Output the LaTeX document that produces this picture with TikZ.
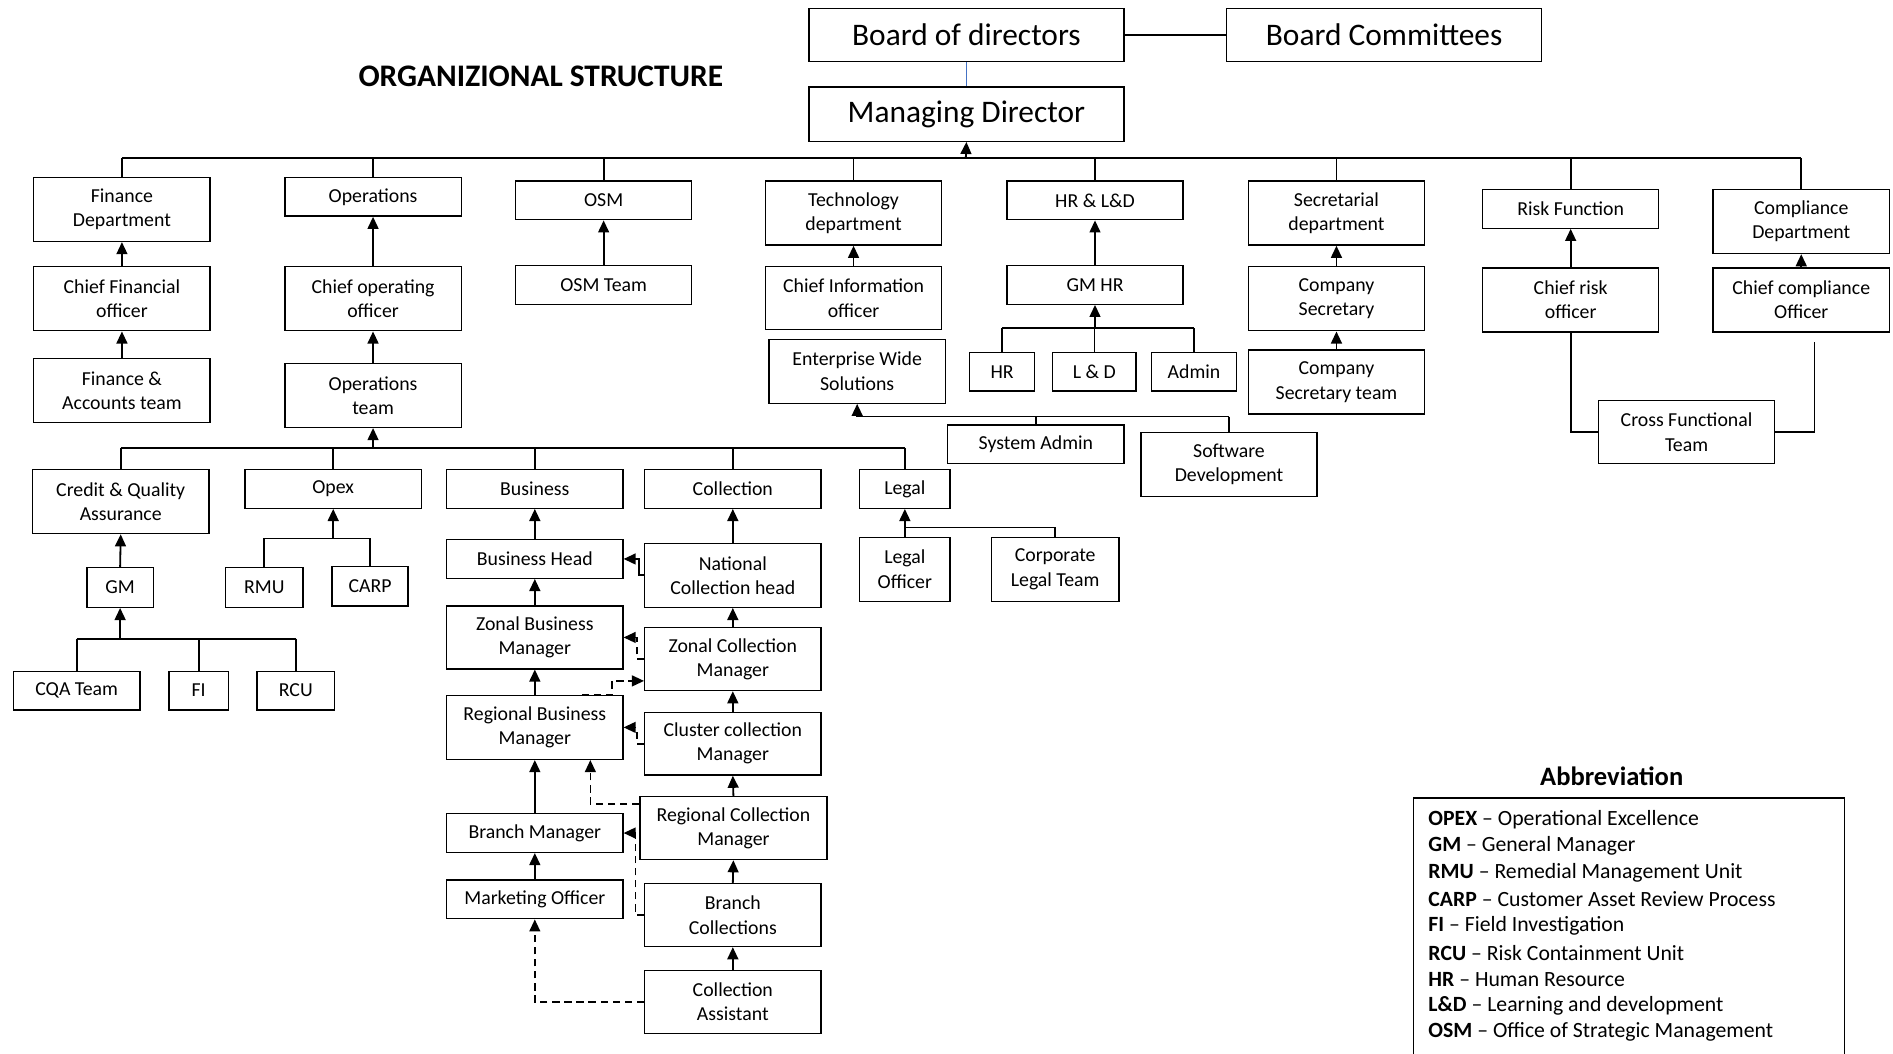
\documentclass[tikz,border=0pt]{standalone}
\usepackage{fontspec}
\setmainfont{Carlito}
\usetikzlibrary{arrows.meta}
\begin{document}
\begin{tikzpicture}[x=1pt,y=-1pt,
 box/.style={draw, line width=1.1pt, align=center, inner sep=0pt, font=\fontsize{16.4}{20}\selectfont},
 bigbox/.style={draw, line width=1.1pt, align=center, inner sep=0pt, font=\fontsize{26}{30}\selectfont},
 sz/.style 2 args={minimum width=#1pt, minimum height=#2pt},
 conn/.style={line width=1.5pt},
 bus/.style={line width=2.2pt},
 arr/.style={line width=1.5pt,-{Triangle[width=9pt,length=10pt]}},
 dsh/.style={dash pattern=on 6pt off 4pt, line width=1.4pt},
 abbr/.style={anchor=west, inner sep=0pt, font=\fontsize{18}{22}\selectfont},
]
\useasboundingbox (0,0) rectangle (1568,873);
\fill[white] (0,0) rectangle (1568,873);

% title
\node[font=\fontsize{26}{30}\selectfont\bfseries] (title) at (448,63) {ORGANIZIONAL STRUCTURE};

% top
\node[bigbox, sz={261}{44}] (bod) at (800.5,29) {Board of directors};
\node[bigbox, sz={261}{44}] (bc) at (1146.5,29) {Board Committees};
\node[bigbox, sz={261}{45}] (md) at (800.5,94.5) {Managing Director};
\draw[conn] (bod.east) -- (bc.west);
\draw[line width=0.7pt, color={rgb,255:red,68;green,114;blue,196}] (bod.south) -- (md.south |- md.north);

% level 1
\node[box, sz={146}{53}] (fd) at (101,173.5) {Finance\\Department};
\node[box, sz={146}{32}] (ops) at (309,163) {Operations};
\node[box, sz={146}{32}] (osm) at (500,166) {OSM};
\node[box, sz={146}{53}] (tech) at (707,176.5) {Technology\\department};
\node[box, sz={146}{32}] (hrld) at (907,166) {HR \& L\&D};
\node[box, sz={146}{53}] (sec) at (1107,176.5) {Secretarial\\department};
\node[box, sz={146}{32}] (risk) at (1301,173) {Risk Function};
\node[box, sz={146}{53}] (comp) at (1492,183.5) {Compliance\\Department};

\coordinate (topbus) at (800,131);
\draw[bus] (fd.north |- topbus) -- (comp.north |- topbus);
\foreach \n in {fd,ops,osm,tech,hrld,sec,risk,comp}
  \draw[conn] (\n.north |- topbus) -- (\n.north);
\draw[arr] (topbus) -- (md.south);

% level 2
\node[box, sz={146}{53}] (cfo) at (101,247.5) {Chief Financial\\officer};
\node[box, sz={146}{53}] (coo) at (309,247.5) {Chief operating\\officer};
\node[box, sz={146}{32}] (osmt) at (500,236) {OSM Team};
\node[box, sz={146}{52}] (cio) at (707,247) {Chief Information\\officer};
\node[box, sz={146}{32}] (gmhr) at (907,236) {GM HR};
\node[box, sz={146}{53}] (cs) at (1107,247.5) {Company\\Secretary};
\node[box, sz={146}{53}] (cro) at (1301,248.5) {Chief risk\\officer};
\node[box, sz={146}{53}] (cco) at (1492,248.5) {Chief compliance\\Officer};

\draw[arr] (cfo.north) -- (fd.south);
\draw[arr] (coo.north) -- (ops.south);
\draw[arr] (osmt.north) -- (osm.south);
\draw[arr] (cio.north) -- (tech.south);
\draw[arr] (gmhr.north) -- (hrld.south);
\draw[arr] (cs.north) -- (sec.south);
\draw[arr] (cro.north) -- (risk.south);
\draw[arr] (cco.north) -- (comp.south);

% level 3
\node[box, sz={146}{53}] (fat) at (101,323.5) {Finance \&\\Accounts team};
\node[box, sz={146}{53}] (opt) at (309,327.5) {Operations\\team};
\node[box, sz={146}{53}] (ews) at (710,307.5) {Enterprise Wide\\Solutions};
\node[box, sz={54}{32}] (hr) at (830,308) {HR};
\node[box, sz={69}{32}] (ld) at (906.5,308) {L \& D};
\node[box, sz={70}{32}] (adm) at (989,308) {Admin};
\node[box, sz={146}{53}] (cst) at (1107,316.5) {Company\\Secretary team};
\node[box, sz={146}{52}] (cft) at (1397,358) {Cross Functional\\Team};
\node[box, sz={146}{32}] (sysad) at (858,368) {System Admin};
\node[box, sz={146}{53}] (swd) at (1018,384.5) {Software\\Development};

\draw[arr] (fat.north) -- (cfo.south);
\draw[arr] (opt.north) -- (coo.south);
\draw[arr] (cst.north) -- (cs.south);

\coordinate (hrbus) at (907,272);
\draw[conn] (hr.north |- hrbus) -- (adm.north |- hrbus);
\foreach \n in {hr,ld,adm} \draw[conn] (\n.north |- hrbus) -- (\n.north);
\draw[arr] (hrbus) -- (gmhr.south);

\coordinate (ewsbus) at (710,345);
\draw[conn] (ewsbus) -- (swd.north |- ewsbus);
\draw[conn] (sysad.north |- ewsbus) -- (sysad.north);
\draw[conn] (swd.north |- ewsbus) -- (swd.north);
\draw[arr] (ewsbus) -- (ews.south);

\coordinate (cftend) at (1503,283);
\draw[conn] (cro.south) |- (cft.west);
\draw[conn] (cft.east) -| (cftend);

% operations level
\node[box, sz={146}{53}] (cqa) at (100,415.5) {Credit \& Quality\\Assurance};
\node[box, sz={146}{32}] (opex) at (276,405) {Opex};
\node[box, sz={146}{32}] (bus) at (443,405) {Business};
\node[box, sz={146}{32}] (coll) at (607,405) {Collection};
\node[box, sz={75}{32}] (legal) at (749.5,405) {Legal};

\coordinate (opsbus) at (309,371);
\draw[bus] (cqa.north |- opsbus) -- (legal.north |- opsbus);
\foreach \n in {cqa,opex,bus,coll,legal} \draw[conn] (\n.north |- opsbus) -- (\n.north);
\draw[arr] (opsbus) -- (opt.south);

% CQA
\node[box, sz={55}{33}] (gm) at (99.5,486.5) {GM};
\node[box, sz={105}{32}] (cqat) at (63.5,572) {CQA Team};
\node[box, sz={49}{32}] (fi) at (164.5,572) {FI};
\node[box, sz={64}{32}] (rcu) at (245,572) {RCU};
\draw[arr] (gm.north) -- (cqa.south);
\coordinate (gmbus) at (99.5,529);
\draw[conn] (cqat.north |- gmbus) -- (rcu.north |- gmbus);
\foreach \n in {cqat,fi,rcu} \draw[conn] (\n.north |- gmbus) -- (\n.north);
\draw[arr] (gmbus) -- (gm.south);

% Opex
\node[box, sz={64}{33}] (rmu) at (219,486.5) {RMU};
\node[box, sz={63}{33}] (carp) at (306.5,485.5) {CARP};
\coordinate (opexbus) at (276,446);
\draw[conn] (rmu.north |- opexbus) -- (carp.north |- opexbus);
\foreach \n in {rmu,carp} \draw[conn] (\n.north |- opexbus) -- (\n.north);
\draw[arr] (opexbus) -- (opex.south);

% Legal
\node[box, sz={75}{53}] (lo) at (749.5,471.5) {Legal\\Officer};
\node[box, sz={106}{53}] (clt) at (874,471.5) {Corporate\\Legal Team};
\coordinate (legalbus) at (749.5,437);
\draw[conn] (legalbus) -| (clt.north);
\draw[arr] (lo.north) -- (legal.south);

% Business column
\node[box, sz={146}{32}] (bh) at (443,463) {Business Head};
\node[box, sz={146}{52}] (zbm) at (443,528) {Zonal Business\\Manager};
\node[box, sz={146}{53}] (rbm) at (443,602.5) {Regional Business\\Manager};
\node[box, sz={146}{32}] (bm) at (443,690) {Branch Manager};
\node[box, sz={146}{32}] (mo) at (443,745) {Marketing Officer};
\draw[arr] (bh.north) -- (bus.south);
\draw[arr] (zbm.north) -- (bh.south);
\draw[arr] (rbm.north) -- (zbm.south);
\draw[arr] (bm.north) -- (rbm.south);
\draw[arr] (mo.north) -- (bm.south);

% Collection column
\node[box, sz={146}{53}] (nch) at (607,476.5) {National\\Collection head};
\node[box, sz={146}{52}] (zcm) at (607,546) {Zonal Collection\\Manager};
\node[box, sz={146}{52}] (ccm) at (607,616) {Cluster collection\\Manager};
\node[box, sz={155}{52}] (rcm) at (607.5,686) {Regional Collection\\Manager};
\node[box, sz={146}{52}] (bcol) at (607,758) {Branch\\Collections};
\node[box, sz={146}{52}] (ca) at (607,830) {Collection\\Assistant};
\draw[arr] (nch.north) -- (coll.south);
\draw[arr] (zcm.north) -- (nch.south);
\draw[arr] (ccm.north) -- (zcm.south);
\draw[arr] (rcm.north) -- (ccm.south);
\draw[arr] (bcol.north) -- (rcm.south);
\draw[arr] (ca.north) -- (bcol.south);

% cross links
\draw[arr] (nch.west) -- ++(-4,0) |- (bh.east);
\draw[arr, dsh] (zcm.west) -- ++(-6,0) |- (zbm.east);
\draw[arr, dsh] ([xshift=39pt]rbm.north) -- ++(25,0) |- ([yshift=-18pt]zcm.west);
\draw[arr, dsh] (ccm.west) -- ++(-6,0) |- (rbm.east);
\draw[arr, dsh] ([yshift=20pt]rcm.west) -| ([xshift=46pt]rbm.south);
\draw[arr, dsh] (bcol.west) -- ++(-7,0) |- (bm.east);
\draw[arr, dsh] (ca.west) -| (mo.south);

% Abbreviation
\node[font=\fontsize{22}{26}\selectfont\bfseries] (abt) at (1335,643) {Abbreviation};
\draw[line width=1.1pt] (1171,661) rectangle (1528,885);
\node[abbr] (a1) at (1183,679) {\textbf{OPEX} -- Operational Excellence};
\node[abbr] (a2) at (1183,701) {\textbf{GM} -- General Manager};
\node[abbr] (a3) at (1183,723) {\textbf{RMU} -- Remedial Management Unit};
\node[abbr] (a4) at (1183,745) {\textbf{CARP} -- Customer Asset Review Process};
\node[abbr] (a5) at (1183,767) {\textbf{FI} -- Field Investigation};
\node[abbr] (a6) at (1183,789) {\textbf{RCU} -- Risk Containment Unit};
\node[abbr] (a7) at (1183,811) {\textbf{HR} -- Human Resource};
\node[abbr] (a8) at (1183,833) {\textbf{L\&D} -- Learning and development};
\node[abbr] (a9) at (1183,855) {\textbf{OSM} -- Office of Strategic Management};
\end{tikzpicture}
\end{document}
